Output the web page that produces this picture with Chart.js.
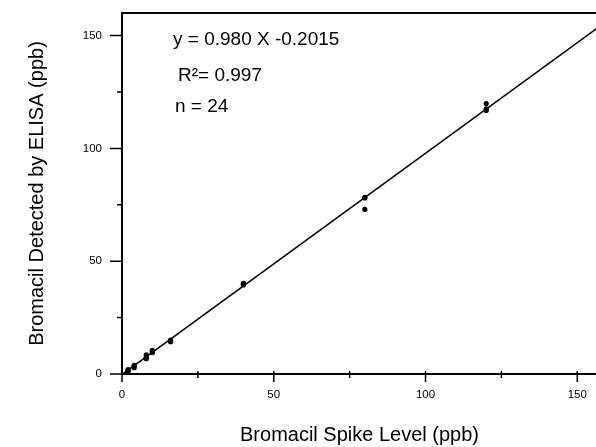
<!DOCTYPE html>
<html>
<head>
<meta charset="utf-8">
<script src="https://cdn.jsdelivr.net/npm/chart.js@4.4.1/dist/chart.umd.min.js"></script>
<style>
  html, body { margin: 0; background: #fff; overflow: hidden; }
  /* a few px wider than the window: Chart.js keeps a small right margin we do not want */
  #wrap { width: 601px; height: 447px; position: relative; }
</style>
</head>
<body>
<div id="wrap"><canvas id="chart"></canvas></div>
<script>
// --- data ---
const spikeLevel = [2, 2, 2, 4, 4, 4, 8, 8, 8, 10, 10, 10, 16, 16, 16, 40, 40, 40, 80, 80, 80, 120, 120, 120];
const detected   = [1.5, 2.0, 1.2, 3.2, 3.8, 2.8, 7.4, 8.5, 6.8, 9.9, 10.5, 9.5, 14.3, 15.0, 14.6, 39.8, 40.2, 39.5, 78.3, 73.0, 78.0, 119.9, 116.8, 117.5];

// regression line end points (y = 0.980 X - 0.2015)
const fitX = [0, 156.5];
const fitY = [-0.2, 153.2];

const xTickLabels = [0, 50, 100, 150];
const yTickLabels = [0, 50, 100, 150];
const noteLines = ['y = 0.980 X -0.2015', 'R\u00b2= 0.997', 'n = 24'];

const FONT = '"Liberation Sans", Arial, Helvetica, sans-serif';

const points = spikeLevel.map((x, i) => ({ x: x, y: detected[i] }));
const fitLine = fitX.map((x, i) => ({ x: x, y: fitY[i] }));

// frame, tick marks and the fit statistics
const framePlugin = {
  id: 'frame',
  afterDraw(chart) {
    const { ctx, chartArea: a, scales: { x, y } } = chart;
    ctx.save();
    ctx.strokeStyle = '#000';
    ctx.lineWidth = 2;
    ctx.beginPath();
    ctx.moveTo(a.left, a.bottom);
    ctx.lineTo(a.left, a.top);
    ctx.lineTo(a.right, a.top);
    ctx.moveTo(a.left - 1, a.bottom);
    ctx.lineTo(a.right, a.bottom);
    ctx.stroke();

    ctx.lineWidth = 1.5;
    ctx.beginPath();
    x.ticks.forEach(t => {
      const px = x.getPixelForValue(t.value);
      const len = xTickLabels.includes(t.value) ? 8 : 4;
      ctx.moveTo(px, a.bottom - 3);
      ctx.lineTo(px, a.bottom + len);
    });
    y.ticks.forEach(t => {
      const py = y.getPixelForValue(t.value);
      const len = yTickLabels.includes(t.value) ? 12 : 5;
      ctx.moveTo(a.left - len, py);
      ctx.lineTo(a.left + 1, py);
    });
    ctx.stroke();

    ctx.fillStyle = '#000';
    ctx.font = '19px ' + FONT;
    ctx.textBaseline = 'middle';
    ctx.fillText(noteLines[0], a.left + 51, a.top + 27);
    ctx.fillText(noteLines[1], a.left + 56, a.top + 63);
    ctx.fillText(noteLines[2], a.left + 53, a.top + 94);
    ctx.restore();
  }
};

// invisible tick marks only reserve room between axis and labels
const hiddenGrid = (len) => ({
  display: true,
  drawOnChartArea: false,
  drawTicks: true,
  tickLength: len,
  tickColor: 'rgba(0,0,0,0)'
});

const ctx = document.getElementById('chart').getContext('2d');
new Chart(ctx, {
  type: 'scatter',
  data: {
    datasets: [
      {
        label: 'fit',
        type: 'line',
        data: fitLine,
        borderColor: '#000',
        borderWidth: 1.6,
        pointRadius: 0,
        fill: false
      },
      {
        label: 'ELISA',
        data: points,
        backgroundColor: '#000',
        borderColor: '#000',
        pointRadius: 2.6,
        pointBorderWidth: 0
      }
    ]
  },
  options: {
    responsive: true,
    maintainAspectRatio: false,
    animation: false,
    layout: { padding: { top: 13, right: 0, left: 0, bottom: 0 } },
    plugins: {
      legend: { display: false },
      tooltip: { enabled: false }
    },
    scales: {
      x: {
        type: 'linear',
        min: 0,
        max: 156.5,
        grid: hiddenGrid(12),
        border: { display: false },
        afterFit: s => { s.height = 73; s.paddingLeft = 0; s.paddingRight = 0; },
        ticks: {
          stepSize: 25,
          includeBounds: false,
          maxRotation: 0,
          autoSkip: false,
          padding: 2,
          color: '#000',
          font: { family: FONT, size: 11.5 },
          callback: v => xTickLabels.includes(v) ? String(v) : ''
        },
        title: {
          display: true,
          text: 'Bromacil Spike Level (ppb)',
          color: '#000',
          font: { family: FONT, size: 20 },
          padding: { top: 0, bottom: 0 }
        }
      },
      y: {
        type: 'linear',
        min: 0,
        max: 160,
        grid: hiddenGrid(18),
        border: { display: false },
        afterFit: s => { s.width = 122; s.paddingTop = 0; s.paddingBottom = 0; },
        ticks: {
          stepSize: 25,
          includeBounds: false,
          autoSkip: false,
          padding: 2,
          color: '#000',
          font: { family: FONT, size: 11.5 },
          callback: v => yTickLabels.includes(v) ? String(v) : ''
        },
        title: {
          display: true,
          text: 'Bromacil Detected by ELISA (ppb)',
          color: '#000',
          font: { family: FONT, size: 20 },
          padding: { top: 25, bottom: 0 }
        }
      }
    }
  },
  plugins: [framePlugin]
});
</script>
</body>
</html>
